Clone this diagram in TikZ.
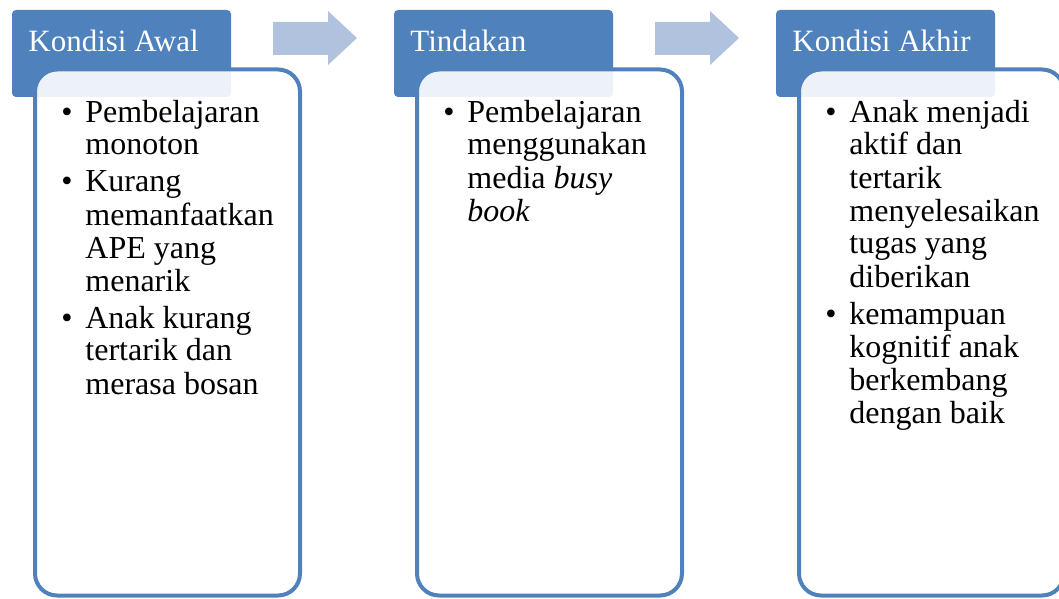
\documentclass[tikz,border=0pt]{standalone}
\usepackage{fontspec}
\setmainfont{Liberation Serif}
\usetikzlibrary{positioning}
\definecolor{birutua}{RGB}{79,129,189}
\definecolor{birumuda}{RGB}{176,194,222}
\newcommand{\butir}{\makebox[12pt][l]{\textbullet}}

\begin{document}
\begin{tikzpicture}[x=.5pt,y=-.5pt,
  tab/.style={fill=birutua,rounded corners=2pt,anchor=north west,outer sep=0pt,inner sep=0pt,minimum width=109.5pt,minimum height=43.5pt},
  kotak/.style={draw=birutua,line width=2pt,fill=white,fill opacity=.9,rounded corners=11pt,anchor=north west,outer sep=0pt,inner sep=0pt,minimum width=132.5pt,minimum height=263pt},
  judul/.style={text=white,anchor=base west,inner sep=0pt,font=\fontsize{15.5}{18}\selectfont},
  isi/.style={anchor=base west,inner sep=0pt,font=\fontsize{16}{16.5}\selectfont},
  panah/.style={fill=birumuda,draw=none}]
\useasboundingbox (0,0) rectangle (1059,599);
\clip (0,0) rectangle (1059,599);

% tab judul
\node[tab] (tab1) at (12,10) {};
\node[tab] (tab2) at (394,10) {};
\node[tab] (tab3) at (776,10) {};

% kotak isi
\node[kotak] (kotak1) at (35,69.5) {};
\node[kotak] (kotak2) at (417,69.5) {};
\node[kotak] (kotak3) at (799,69.5) {};

\node[judul] (judul1) at (28,52) {Kondisi Awal};
\node[judul] (judul2) at (410,52) {Tindakan};
\node[judul] (judul3) at (792,52) {Kondisi Akhir};

% panah blok
\fill[panah] (273,22) -- (328,22) -- (328,11) -- (357,38) -- (328,65) -- (328,55) -- (273,55) -- cycle;
\fill[panah] (655,22) -- (710,22) -- (710,11) -- (739,38) -- (710,65) -- (710,55) -- (655,55) -- cycle;

\node[isi] (isi1) at (61,122) {\begin{tabular}[t]{@{}l@{}l@{}}
\butir & Pembelajaran\\
 & monoton\\[2pt]
\butir & Kurang\\
 & memanfaatkan\\
 & APE yang\\
 & menarik\\[2pt]
\butir & Anak kurang\\
 & tertarik dan\\
 & merasa bosan
\end{tabular}};

\node[isi] (isi2) at (443,122) {\begin{tabular}[t]{@{}l@{}l@{}}
\butir & Pembelajaran\\
 & menggunakan\\
 & media \textit{busy}\\
 & \textit{book}
\end{tabular}};

\node[isi] (isi3) at (825,122) {\begin{tabular}[t]{@{}l@{}l@{}}
\butir & Anak menjadi\\
 & aktif dan\\
 & tertarik\\
 & menyelesaikan\\
 & tugas yang\\
 & diberikan\\[2pt]
\butir & kemampuan\\
 & kognitif anak\\
 & berkembang\\
 & dengan baik
\end{tabular}};

\end{tikzpicture}
\end{document}
